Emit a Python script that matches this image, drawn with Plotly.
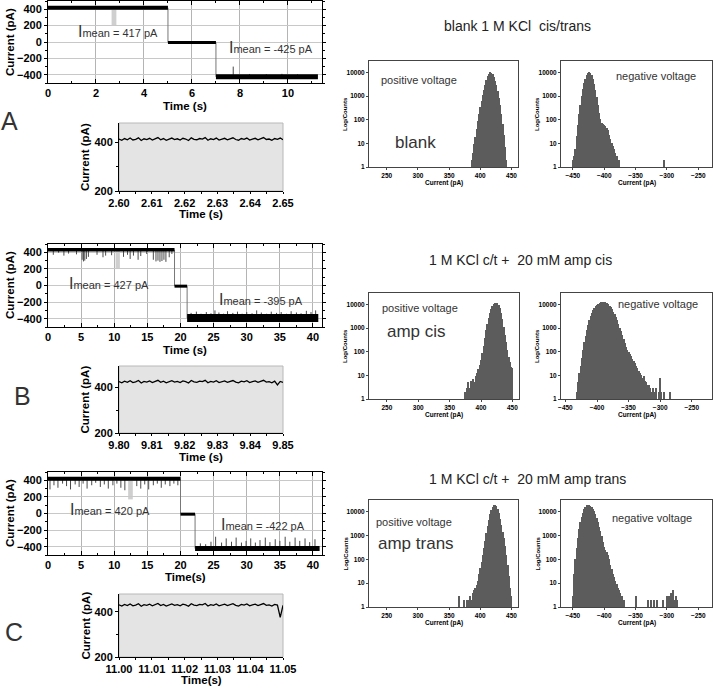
import plotly.graph_objects as go

W, H = 713, 692
FONT = "Liberation Sans, Arial, sans-serif"

# ======================= DATA =======================
# --- current traces: step times, levels, spikes (t, current) ---
A_step_t = [0, 5.0, 7.0, 11.25]
A_step_level = [417, -5, -425]
A_spike_t = [7.72, 8.4, 9.1, 9.75, 10.4]
A_spike_v = [-300, -390, -392, -388, -393]
A_mark_t = [2.65, 2.85]
A_mark_v = [200, 417]

B_step_t = [0, 19.1, 21.0, 40.8]
B_step_level = [430, -8, -392]
B_spike_t = [0.8, 1.6, 2.4, 3.1, 4.3, 5.15, 5.35, 5.55, 5.8, 6.1, 7.4, 8.3, 8.7, 9.6, 11.4, 12.0,
             12.4, 12.9, 13.6, 14.0, 14.9, 15.9, 16.3, 16.6, 16.9, 17.2, 17.5, 17.8, 18.3, 18.7,
             21.6, 22.4, 23.1, 23.9, 24.6, 25.2, 25.8, 26.5, 27.1, 27.9, 28.6, 29.3, 30.0, 30.8,
             31.5, 32.2, 33.0, 33.7, 34.5, 35.2, 36.0, 36.7, 37.5, 38.2, 39.0, 39.7, 40.4]
B_spike_v = [370, 395, 360, 385, 375, 310, 290, 300, 320, 345, 370, 340, 360, 365, 345, 370,
             320, 360, 310, 355, 380, 310, 290, 300, 285, 295, 310, 285, 340, 380,
             -330, -315, -340, -320, -335, -300, -325, -340, -310, -330, -315, -340, -320, -335,
             -300, -325, -340, -315, -330, -320, -340, -310, -325, -335, -305, -320, -300]
B_mark_t = [10.2, 10.85]
B_mark_v = [200, 430]

C_step_t = [0, 20.0, 22.2, 41.0]
C_step_level = [420, -8, -422]
C_spike_t = [0.3, 0.9, 1.5, 2.2, 2.8, 3.4, 4.1, 4.7, 5.3, 5.9, 6.6, 7.2, 7.9, 8.5, 9.1, 9.8,
             10.4, 11.0, 11.6, 13.4, 14.0, 14.6, 15.2, 15.9, 16.5, 17.1, 17.7, 18.4, 19.0, 19.6,
             23.0, 23.8, 24.6, 25.3, 26.2, 26.9, 27.7, 28.4, 29.2, 29.9, 30.6, 31.3, 32.0, 32.8,
             33.5, 34.3, 35.0, 35.8, 36.5, 37.3, 38.0, 38.8, 39.5, 40.3]
C_spike_v = [290, 340, 310, 360, 330, 290, 350, 320, 360, 300, 340, 370, 320, 350, 300, 340,
             360, 310, 280, 330, 300, 350, 290, 340, 360, 310, 350, 330, 360, 340,
             -360, -370, -340, -280, -350, -300, -340, -290, -350, -330, -300, -350, -320, -290,
             -345, -310, -330, -280, -340, -290, -330, -300, -345, -310]
C_mark_t = [12.1, 12.8]
C_mark_v = [170, 420]

# --- zoomed traces (sample start, sample end, values) ---
A_zoom_t0, A_zoom_t1 = 2.600, 2.650
A_zoom_v = [414, 409, 416, 411, 418, 410, 413, 419, 408, 415, 412, 417, 410, 414, 420, 411, 416, 409,
            413, 418, 412, 415, 410, 417, 414, 408, 419, 413, 411, 416, 414, 420, 409, 415, 412, 418,
            410, 413, 417, 411, 415, 419, 412, 409, 416, 413, 418, 410, 414, 417, 411, 415, 420, 412,
            414, 409, 416, 413, 418, 411]
B_zoom_t0, B_zoom_t1 = 9.800, 9.850
B_zoom_v = [426, 421, 428, 423, 430, 422, 425, 431, 420, 427, 424, 429, 422, 426, 432, 423, 428, 421,
            425, 430, 424, 427, 422, 429, 426, 420, 431, 425, 423, 428, 426, 432, 421, 427, 424, 430,
            422, 425, 429, 423, 427, 431, 424, 421, 428, 425, 430, 422, 426, 429, 423, 427, 432, 424,
            426, 421, 428, 412, 427, 423]
C_zoom_t0, C_zoom_t1 = 11.000, 11.050
C_zoom_v = [430, 425, 432, 427, 434, 426, 429, 435, 424, 431, 428, 433, 426, 430, 436, 427, 432, 425,
            429, 434, 428, 431, 426, 433, 430, 424, 435, 429, 427, 432, 430, 436, 425, 431, 428, 434,
            426, 429, 433, 427, 431, 435, 428, 425, 432, 429, 434, 426, 430, 433, 427, 431, 436, 428,
            430, 425, 432, 429, 375, 428]

# --- histograms (bin centre pA, counts) ---
A_pos_c = [386, 388, 390, 392, 394, 396, 398, 400, 402, 404, 406, 408, 410, 412, 414, 416, 418, 420,
           422, 424, 426, 428, 430, 432, 434, 436, 438, 440, 442]
A_pos_n = [2, 4, 9, 18, 40, 85, 170, 340, 640, 1100, 1800, 3000, 4800, 6800, 8800, 10000, 9800, 8500,
           6500, 4500, 2800, 1600, 850, 400, 170, 65, 22, 7, 2]
A_neg_c = [-450, -448, -446, -444, -442, -440, -438, -436, -434, -432, -430, -428, -426, -424, -422,
           -420, -418, -416, -414, -412, -410, -408, -406, -404, -402, -400, -398, -396, -394, -392,
           -390, -388, -386, -384, -382, -380, -378, -376, -304]
A_neg_n = [2, 3, 6, 20, 60, 170, 420, 1000, 2000, 3600, 5500, 7500, 9200, 10000, 9300,
           7600, 5400, 3300, 1800, 900, 420, 200, 110, 75, 65, 60, 55, 45, 35, 22,
           15, 10, 8, 6, 4, 3, 2, 2, 2]
B_pos_c = [374, 376, 378, 380, 382, 384, 386, 388, 390, 392, 394, 396, 398, 400, 402, 404, 406, 408,
           410, 412, 414, 416, 418, 420, 422, 424, 426, 428, 430, 432, 434, 436, 438, 440, 442, 444,
           446, 448, 450]
B_pos_n = [2, 2, 3, 5, 3, 6, 4, 7, 5, 9, 12, 18, 28, 45, 90, 180, 380, 800,
           1500, 2700, 4300, 6500, 8600, 10300, 11300, 11500, 11000, 9500, 7000, 4300, 2300, 1100, 500, 250, 120, 60,
           35, 22, 20]
B_neg_c = [-432, -430, -428, -426, -424, -422, -420, -418, -416, -414, -412, -410, -408, -406, -404,
           -402, -400, -398, -396, -394, -392, -390, -388, -386, -384, -382, -380, -378, -376, -374,
           -372, -370, -368, -366, -364, -362, -360, -358, -356, -354, -352, -350, -348, -346, -344,
           -342, -340, -338, -336, -334, -332, -330, -328, -326, -324, -322, -320, -318, -316, -314,
           -312, -310, -306, -302, -300, -298, -294, -290, -284]
B_neg_n = [2, 5, 12, 25, 55, 120, 250, 480, 850, 1400, 2200, 3200, 4400, 5800, 7200,
           8500, 9600, 10600, 11400, 12000, 12400, 12500, 12300, 11800, 11000, 10000, 8800, 7500, 6200, 4900,
           3800, 2800, 2100, 1500, 1050, 720, 500, 350, 240, 160, 115, 95, 80, 65, 50,
           40, 32, 25, 20, 15, 12, 10, 8, 9, 6, 5, 4, 4, 3, 2,
           3, 2, 3, 2, 8, 2, 2, 1, 2]
C_pos_c = [366, 374, 378, 382, 384, 386, 388, 390, 392, 394, 396, 398, 400, 402, 404, 406, 408, 410,
           412, 414, 416, 418, 420, 422, 424, 426, 428, 430, 432, 434, 436, 438, 440, 442, 444, 446,
           448, 450]
C_pos_n = [3, 2, 2, 2, 3, 2, 4, 5, 6, 8, 12, 25, 45, 80, 150, 300, 600, 1200,
           2400, 4300, 7500, 11500, 15500, 18500, 19000, 17000, 13000, 8500, 4800, 2600, 1400, 750, 350, 150, 60, 20,
           6, 3]
C_neg_c = [-452, -450, -448, -446, -444, -442, -440, -438, -436, -434, -432, -430, -428, -426, -424,
           -422, -420, -418, -416, -414, -412, -410, -408, -406, -404, -402, -400, -398, -396, -394,
           -392, -390, -388, -386, -384, -382, -380, -378, -376, -374, -372, -370, -368, -350, -330,
           -326, -320, -316, -306, -300, -296, -294, -292, -290, -288, -286, -284]
C_neg_n = [1, 3, 25, 100, 300, 800, 1800, 3500, 6000, 9000, 12500, 15500, 18000, 19000, 18500,
           17000, 15000, 12500, 10000, 7500, 5200, 3500, 2300, 1500, 900, 550, 330, 250, 200, 150,
           100, 60, 40, 25, 18, 12, 9, 6, 5, 4, 3, 2, 2, 3, 2,
           2, 2, 2, 2, 3, 3, 4, 3, 5, 2, 3, 2]

# ======================= FIGURE =======================
fig = go.Figure()
layout = dict(template="none", width=W, height=H, margin=dict(l=0, r=0, t=0, b=0, pad=0),
              autosize=False, plot_bgcolor="white", paper_bgcolor="white", showlegend=False,
              bargap=0, font=dict(family=FONT, color="black"))
shapes, annotations = [], []


def names(i):
    s = "" if i == 1 else str(i)
    return "x" + s, "y" + s, "xaxis" + s, "yaxis" + s


def dom_x(a, b):
    return [a / W, b / W]


def dom_y(top, bottom):
    return [1 - bottom / H, 1 - top / H]


def ann(text, x, y, size, xanchor="center", yanchor="middle", angle=0, bold=False, color="#222"):
    annotations.append(dict(text=text, x=x / W, y=1 - y / H, xref="paper", yref="paper",
                            xanchor=xanchor, yanchor=yanchor, showarrow=False, textangle=angle,
                            font=dict(family=FONT, size=size, color=color,
                                      weight="bold" if bold else "normal")))


def level_at(step_t, levels, t):
    for k in range(len(levels)):
        if step_t[k] <= t <= step_t[k + 1]:
            return levels[k]
    return levels[-1]


def trace_panel(i, left, right, top, bottom, xmax, dtick, minor, step_t, levels, widths,
                spike_t, spike_v, mark_t, mark_v, xtitle, yc):
    xn, yn, xk, yk = names(i)
    tf = dict(family=FONT, size=11, color="black", weight="bold")
    layout[xk] = dict(domain=dom_x(left, right), range=[0, xmax], anchor=yn, automargin=False,
                      showline=True, linecolor="black", linewidth=1, mirror="allticks",
                      ticks="inside", ticklen=4, tickcolor="black", tick0=0, dtick=dtick,
                      minor=dict(ticks="inside", ticklen=2, dtick=minor, tickcolor="black"),
                      showgrid=True, gridcolor="#b4b4b4", gridwidth=1, zeroline=False, tickfont=tf)
    layout[yk] = dict(domain=dom_y(top, bottom), range=[-500, 500], anchor=xn, automargin=False,
                      showline=True, linecolor="black", linewidth=1, mirror="allticks",
                      ticks="outside", ticklen=3, tickcolor="black", tick0=0, dtick=200,
                      minor=dict(ticks="outside", ticklen=2, dtick=100, tickcolor="black"),
                      showgrid=True, gridcolor="#c8c8c8", gridwidth=1, zeroline=False, tickfont=tf)
    shapes.append(dict(type="rect", xref=xn, yref=yn, x0=mark_t[0], x1=mark_t[1], y0=mark_v[0],
                       y1=mark_v[1], fillcolor="#cfcfcf", line=dict(width=0), layer="below"))
    sx, sy = [], []
    for t, v in zip(spike_t, spike_v):
        sx += [t, t, None]
        sy += [level_at(step_t, levels, t), v, None]
    fig.add_trace(go.Scatter(x=sx, y=sy, xaxis=xn, yaxis=yn, mode="lines",
                             line=dict(color="#4a4a4a", width=1), hoverinfo="skip"))
    tx, ty = [], []
    for k in range(len(levels) - 1):
        tx += [step_t[k + 1], step_t[k + 1], None]
        ty += [levels[k], levels[k + 1], None]
    fig.add_trace(go.Scatter(x=tx, y=ty, xaxis=xn, yaxis=yn, mode="lines",
                             line=dict(color="#777777", width=1), hoverinfo="skip"))
    for k in range(len(levels)):
        fig.add_trace(go.Scatter(x=[step_t[k], step_t[k + 1]], y=[levels[k], levels[k]],
                                 xaxis=xn, yaxis=yn, mode="lines",
                                 line=dict(color="black", width=widths[k]), hoverinfo="skip"))
    ann("Current (pA)", 10, yc, 11.5, angle=-90, bold=True, color="black")
    ann(xtitle[0], (left + right) / 2, xtitle[1], 11.5, bold=True, color="black")


def zoom_panel(i, left, right, top, bottom, t0, t1, yr, vals, xtitle, xtitle_y):
    xn, yn, xk, yk = names(i)
    tf = dict(family=FONT, size=11, color="black", weight="bold")
    layout[xk] = dict(domain=dom_x(left, right), range=[t0, t1], anchor=yn, automargin=False,
                      showline=True, linecolor="black", linewidth=1, ticks="outside", ticklen=2,
                      tickcolor="black", tick0=t0, dtick=0.01, tickformat=".2f", tickangle=0,
                      showgrid=False, zeroline=False,
                      minor=dict(ticks="outside", ticklen=2, dtick=0.005, tickcolor="black"),
                      tickfont=tf)
    layout[yk] = dict(domain=dom_y(top, bottom), range=yr, anchor=xn, automargin=False,
                      showline=True, linecolor="black", linewidth=1, ticks="outside", ticklen=3,
                      tickcolor="black", tickvals=[200, 400],
                      minor=dict(ticks="outside", ticklen=2, tickvals=[300], tickcolor="black"),
                      showgrid=False, zeroline=False, tickfont=tf)
    shapes.append(dict(type="rect", xref=xn + " domain", yref=yn + " domain", x0=0, x1=1, y0=0,
                       y1=1, fillcolor="#e4e4e4", line=dict(color="#b8b8b8", width=1),
                       layer="below"))
    n = len(vals)
    ts = [t0 + (t1 - t0) * k / (n - 1) for k in range(n)]
    fig.add_trace(go.Scatter(x=ts, y=vals, xaxis=xn, yaxis=yn, mode="lines",
                             line=dict(color="black", width=1.3), hoverinfo="skip"))
    ann("Current (pA)", 85, (top + bottom) / 2, 11.5, angle=-90, bold=True, color="black")
    ann(xtitle, (left + right) / 2, xtitle_y, 11.5, bold=True, color="black")


def hist_panel(i, left, right, top, bottom, xr, centres, counts, title_y):
    xn, yn, xk, yk = names(i)
    layout[xk] = dict(domain=dom_x(left, right), range=xr, anchor=yn, automargin=False,
                      showline=True, linecolor="#444", linewidth=1, mirror=True, ticks="outside",
                      ticklen=2, tickcolor="#444", tick0=0, dtick=50, showgrid=False,
                      zeroline=False, tickangle=0,
                      tickfont=dict(family=FONT, size=6.5, color="black", weight="bold"))
    layout[yk] = dict(domain=dom_y(top, bottom), type="log", range=[0, 4.48], anchor=xn,
                      automargin=False, showline=True, linecolor="#444", linewidth=1, mirror=True,
                      ticks="outside", ticklen=2, tickcolor="#444",
                      tickvals=[1, 10, 100, 1000, 10000],
                      ticktext=["1", "10", "100", "1000", "10000"], showgrid=False, zeroline=False,
                      tickfont=dict(family=FONT, size=6.5, color="black", weight="bold"))
    fig.add_trace(go.Bar(x=centres, y=counts, xaxis=xn, yaxis=yn, width=1.7,
                         marker=dict(color="#5c5c5c", line=dict(width=0)), hoverinfo="skip"))
    ann("Log/Counts", left - 24, (top + bottom) / 2, 6, angle=-90, bold=True, color="black")
    ann("Current (pA)", (left + right) / 2, title_y, 6.5, bold=True, color="black")


# ---- trace panels ----
trace_panel(1, 48, 322, 1, 83, 11.42, 2, 1, A_step_t, A_step_level, [4, 3, 5],
            A_spike_t, A_spike_v, A_mark_t, A_mark_v, ("Time (s)", 106), 42)
trace_panel(5, 48, 322, 244, 327, 41.36, 5, 2.5, B_step_t, B_step_level, [3.5, 3, 8],
            B_spike_t, B_spike_v, B_mark_t, B_mark_v, ("Time (s)", 350), 285)
trace_panel(9, 48, 322, 472, 555, 41.36, 5, 2.5, C_step_t, C_step_level, [4, 3, 5],
            C_spike_t, C_spike_v, C_mark_t, C_mark_v, ("Time(s)", 577), 513)

# ---- zoom panels ----
zoom_panel(2, 119, 283, 123, 191, A_zoom_t0, A_zoom_t1, [200, 480], A_zoom_v, "Time (s)", 214)
zoom_panel(6, 119, 283, 366, 433, B_zoom_t0, B_zoom_t1, [200, 495], B_zoom_v, "Time (s)", 457)
zoom_panel(10, 119, 283, 594, 657, C_zoom_t0, C_zoom_t1, [200, 478], C_zoom_v, "Time(s)", 680)

# ---- histograms ----
hist_panel(3, 369, 518, 61, 167, [221.5, 460.5], A_pos_c, A_pos_n, 183)
hist_panel(4, 561, 712, 61, 167, [-469, -228], A_neg_c, A_neg_n, 183)
hist_panel(7, 369, 519, 293, 399, [221.5, 460.5], B_pos_c, B_pos_n, 415)
hist_panel(8, 561, 712, 293, 399, [-457, -218], B_neg_c, B_neg_n, 415)
hist_panel(11, 369, 518, 500, 607, [221.5, 460.5], C_pos_c, C_pos_n, 623)
hist_panel(12, 561, 712, 500, 607, [-469, -228], C_neg_c, C_neg_n, 623)

# ---- texts ----
I = "<span style='font-size:16px'>I</span>"
ann(I + "mean = 417 pA", 76, 31, 11, xanchor="left", color="#333")
ann(I + "mean = -425 pA", 227, 48, 11, xanchor="left", color="#333")
ann(I + "mean = 427 pA", 67, 283, 11, xanchor="left", color="#333")
ann(I + "mean = -395 pA", 217, 299, 11, xanchor="left", color="#333")
ann(I + "mean = 420 pA", 68, 509, 11, xanchor="left", color="#333")
ann(I + "mean = -422 pA", 219, 524, 11, xanchor="left", color="#333")

ann("A", 9, 121, 25, color="#333")
ann("B", 22, 396, 25, color="#333")
ann("C", 14, 632, 25, color="#333")

ann("blank 1 M KCl  cis/trans", 517, 26, 14)
ann("1 M KCl c/t +  20 mM amp cis", 520, 260, 14)
ann("1 M KCl c/t +  20 mM amp trans", 527, 479, 14)

ann("positive voltage", 379, 80, 11, xanchor="left", color="#333")
ann("blank", 393, 143, 17, xanchor="left", color="#333")
ann("negative voltage", 614, 76, 11, xanchor="left", color="#333")
ann("positive voltage", 380, 308, 11, xanchor="left", color="#333")
ann("amp cis", 385, 332, 17, xanchor="left", color="#333")
ann("negative voltage", 616, 304, 11, xanchor="left", color="#333")
ann("positive voltage", 374, 522, 11, xanchor="left", color="#333")
ann("amp trans", 376, 543, 17, xanchor="left", color="#333")
ann("negative voltage", 610, 518, 11, xanchor="left", color="#333")

layout["shapes"] = shapes
layout["annotations"] = annotations
fig.update_layout(**layout)
fig.write_html("out.html", config={"displayModeBar": False},
               post_script="document.body.style.margin='0';document.body.style.overflow='hidden';")
